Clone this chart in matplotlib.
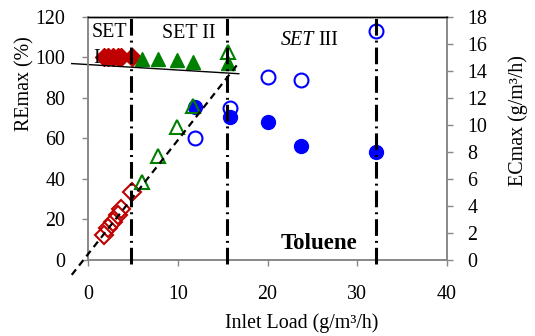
import matplotlib
matplotlib.use("Agg")
import matplotlib.pyplot as plt

plt.rcParams['font.family'] = ['Liberation Serif', 'DejaVu Serif']
plt.rcParams['lines.scale_dashes'] = False

# Set I (red diamonds)
set1_load = [1.7, 2.2, 2.8, 3.3, 3.7, 4.9]
set1_re = [100, 100, 100, 100, 100, 100]
set1_ec = [1.85, 2.35, 2.8, 3.3, 3.75, 5.05]

# Set II (green triangles)
set2_load = [6.0, 7.8, 9.9, 11.7, 15.6]
set2_re = [99, 99, 98.5, 97.5, 97]
set2_ec = [5.8, 7.7, 9.8, 11.4, 15.4]

# Set III (blue circles)
set3_load = [11.9, 15.8, 20.0, 23.7, 32.1]
set3_re = [75.4, 70.5, 68.0, 56.1, 53.3]
set3_ec = [9.0, 11.2, 13.5, 13.3, 16.9]

# Boundaries between operating sets
set_bounds = [4.8, 15.5, 32.1]

# Trend lines: RE trend (left axis) and EC trend (right axis)
re_trend_x = [-1.85, 16.8]
re_trend_y = [96.8, 91.8]
ec_trend_x = [-1.85, 16.7]
ec_trend_y = [-1.1, 14.5]

x_ticks = [0, 10, 20, 30, 40]
re_ticks = [0, 20, 40, 60, 80, 100, 120]
ec_ticks = [0, 2, 4, 6, 8, 10, 12, 14, 16, 18]

RED = '#C00000'
GREEN = '#008000'
BLUE = '#0000FF'
GRAY = '#888888'
FS = 14.4

W, H = 535, 336
fig = plt.figure(figsize=(W / 100, H / 100), dpi=100)
x0, x1, y0, y1 = 88.3, 446.7, 16.5, 260.0
ax = fig.add_axes([x0 / W, 1 - y1 / H, (x1 - x0) / W, (y1 - y0) / H])
ax2 = ax.twinx()

ax.set_xlim(0, 40)
ax.set_ylim(0, 120)
ax2.set_ylim(0, 18)
ax.set_xticks(x_ticks)
ax.set_yticks(re_ticks)
ax2.set_yticks(ec_ticks)

# Removal efficiency: filled markers on the left axis
ax.plot(set1_load, set1_re, 'D', color=RED, ms=9, mec=RED, ls='none', zorder=3)
ax.plot(set2_load, set2_re, '^', color=GREEN, ms=10.5, mec=GREEN, ls='none', zorder=3)
ax.plot(set3_load, set3_re, 'o', color=BLUE, ms=10, mec=BLUE, ls='none', zorder=3)
ax.plot(re_trend_x, re_trend_y, '-', color='black', lw=1.0, clip_on=False, zorder=4)

# Elimination capacity: open markers on the right axis
ax2.plot(set1_load, set1_ec, 'D', mfc='none', mec=RED, mew=1.5, ms=9, ls='none', zorder=3)
ax2.plot(set2_load, set2_ec, '^', mfc='none', mec=GREEN, mew=1.5, ms=10.5, ls='none', zorder=3)
ax2.plot(set3_load, set3_ec, 'o', mfc='none', mec=BLUE, mew=1.5, ms=10, ls='none', zorder=3)
ax2.plot(ec_trend_x, ec_trend_y, color='black', lw=1.6, ls=(0, (5, 3.5)),
         clip_on=False, zorder=5)

for xb in set_bounds:
    ax2.plot([xb, xb], [-0.3, 18], color='black', lw=2.2,
             ls=(0, (12, 3.6, 1.4, 3.6)), clip_on=False, zorder=6)

# Axes styling
for sp in ['left', 'bottom', 'right']:
    ax.spines[sp].set_color(GRAY)
    ax2.spines[sp].set_color(GRAY)
    ax2.spines[sp].set_linewidth(1.2)
    ax.spines[sp].set_linewidth(1.2)
ax.spines['top'].set_color('black')
ax2.spines['top'].set_color('black')
ax.spines['top'].set_linewidth(1.0)
ax2.spines['top'].set_linewidth(1.0)

ax.tick_params(axis='x', direction='out', length=4, width=1, color=GRAY,
               labelsize=FS, pad=14)
ax.tick_params(axis='y', direction='out', length=4.5, width=1, color=GRAY,
               labelsize=FS, pad=12)
ax2.tick_params(axis='y', direction='out', length=4.5, width=1, color=GRAY,
                labelsize=FS, pad=10.5)

# Axis titles
fig.text(25 / W, 1 - 84 / H, 'REmax (%)', rotation=90, ha='center', va='center',
         fontsize=FS)
fig.text(518 / W, 1 - 121 / H, 'ECmax (g/m³/h)', rotation=90, ha='center',
         va='center', fontsize=FS)
fig.text(301.5 / W, 1 - 323 / H, 'Inlet Load (g/m³/h)', ha='center', va='center',
         fontsize=FS)

# Set annotations
ax.text(0.38, 110, 'SET', fontsize=FS, ha='left', va='baseline', zorder=7)
ax.text(0.56, 97.1, 'I', fontsize=FS, ha='left', va='baseline', zorder=7)
ax.text(11.26, 109.4, 'SET II', fontsize=FS, ha='center', va='baseline', zorder=7)
ax.text(25.2, 106, 'SET', fontsize=FS, ha='right', va='baseline', style='italic')
ax.text(25.7, 106, 'III', fontsize=FS, ha='left', va='baseline')
ax.text(25.7, 5.4, 'Toluene', fontsize=16.5, fontweight='bold', ha='center',
        va='baseline')

fig.savefig('out.png', dpi=100, facecolor='white')
